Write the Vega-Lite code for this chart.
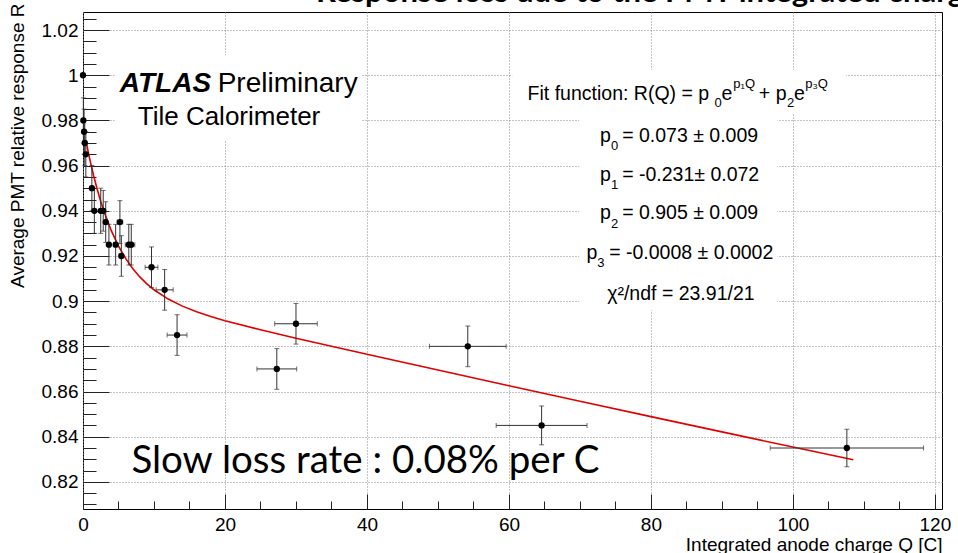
{
  "$schema": "https://vega.github.io/schema/vega-lite/v6.json",
  "width": 859,
  "height": 497,
  "autosize": {"type": "none"},
  "padding": {"left": 83, "top": 12, "right": 16, "bottom": 44},
  "background": "white",
  "title": {
    "text": "Response loss due to the PMT integrated charge",
    "anchor": "start",
    "frame": "group",
    "dx": 233,
    "offset": -6,
    "font": "Lato",
    "fontSize": 31,
    "fontWeight": "bold",
    "color": "black"
  },
  "config": {
    "view": {"stroke": "black", "strokeWidth": 1},
    "axis": {
      "labelFont": "Liberation Sans",
      "titleFont": "Liberation Sans",
      "labelFontSize": 19,
      "titleFontSize": 19,
      "titleFontWeight": "normal",
      "labelColor": "black",
      "titleColor": "black",
      "tickColor": "#222",
      "tickWidth": 1,
      "gridColor": "#888",
      "gridDash": [1, 2],
      "gridWidth": 1,
      "labelFlush": false,
      "labelOverlap": false,
      "domain": false
    }
  },
  "datasets": {
    "points": [
      {"Q": 0.0, "R": 1.0, "xe": 0.0, "ye": 0.0},
      {"Q": 0.05, "R": 0.98, "xe": 0.05, "ye": 0.01},
      {"Q": 0.15, "R": 0.975, "xe": 0.05, "ye": 0.01},
      {"Q": 0.25, "R": 0.97, "xe": 0.05, "ye": 0.01},
      {"Q": 0.4, "R": 0.965, "xe": 0.1, "ye": 0.01},
      {"Q": 1.25, "R": 0.95, "xe": 0.1, "ye": 0.01},
      {"Q": 1.6, "R": 0.94, "xe": 0.15, "ye": 0.01},
      {"Q": 2.5, "R": 0.94, "xe": 0.2, "ye": 0.01},
      {"Q": 2.85, "R": 0.94, "xe": 0.2, "ye": 0.009},
      {"Q": 3.2, "R": 0.935, "xe": 0.2, "ye": 0.009},
      {"Q": 3.65, "R": 0.925, "xe": 0.2, "ye": 0.009},
      {"Q": 4.6, "R": 0.925, "xe": 0.3, "ye": 0.009},
      {"Q": 5.2, "R": 0.935, "xe": 0.4, "ye": 0.0095},
      {"Q": 5.4, "R": 0.92, "xe": 0.3, "ye": 0.009},
      {"Q": 6.45, "R": 0.925, "xe": 0.5, "ye": 0.009},
      {"Q": 6.8, "R": 0.925, "xe": 0.5, "ye": 0.009},
      {"Q": 9.65, "R": 0.915, "xe": 0.9, "ye": 0.009},
      {"Q": 11.5, "R": 0.905, "xe": 1.2, "ye": 0.009},
      {"Q": 13.25, "R": 0.885, "xe": 1.4, "ye": 0.009},
      {"Q": 27.3, "R": 0.87, "xe": 2.8, "ye": 0.009},
      {"Q": 30.0, "R": 0.89, "xe": 3.0, "ye": 0.009},
      {"Q": 54.2, "R": 0.88, "xe": 5.4, "ye": 0.009},
      {"Q": 64.6, "R": 0.845, "xe": 6.4, "ye": 0.0086},
      {"Q": 107.6, "R": 0.835, "xe": 10.8, "ye": 0.0083}
    ],
    "fit": [
      {"Q": 0.4, "R": 0.97131},
      {"Q": 0.7, "R": 0.96659},
      {"Q": 1, "R": 0.96222},
      {"Q": 1.5, "R": 0.95553},
      {"Q": 2, "R": 0.94954},
      {"Q": 2.5, "R": 0.94416},
      {"Q": 3, "R": 0.93934},
      {"Q": 4, "R": 0.93109},
      {"Q": 5, "R": 0.92439},
      {"Q": 6, "R": 0.91893},
      {"Q": 7, "R": 0.91444},
      {"Q": 8, "R": 0.91073},
      {"Q": 9, "R": 0.90764},
      {"Q": 10, "R": 0.90504},
      {"Q": 12, "R": 0.90092},
      {"Q": 14, "R": 0.8978},
      {"Q": 16, "R": 0.8953},
      {"Q": 18, "R": 0.89321},
      {"Q": 20, "R": 0.89136},
      {"Q": 25, "R": 0.88731},
      {"Q": 30, "R": 0.88361},
      {"Q": 40, "R": 0.87651},
      {"Q": 50, "R": 0.86951},
      {"Q": 60, "R": 0.86259},
      {"Q": 70, "R": 0.85571},
      {"Q": 80, "R": 0.84889},
      {"Q": 90, "R": 0.84213},
      {"Q": 100, "R": 0.83542},
      {"Q": 108.5, "R": 0.82976}
    ],
    "boxes": [
      {"Q": 4.47, "Q2": 39.2, "R": 1.0089, "R2": 0.97127},
      {"Q": 60.48, "Q2": 107.5, "R": 1.00228, "R2": 0.98323},
      {"Q": 69.9, "Q2": 97.8, "R": 0.98323, "R2": 0.89597}
    ],
    "ann": [
      {"role": "atlasB", "Q": 5.19, "R": 0.99267, "text": "ATLAS"},
      {"role": "atlasP", "Q": 18.97, "R": 0.99267, "text": "Preliminary"},
      {"role": "tile", "Q": 7.71, "R": 0.97792, "text": "Tile Calorimeter"},
      {"role": "fit", "Q": 62.63, "R": 0.98899, "text": "Fit function: R(Q) = p"},
      {"role": "sub", "Q": 88.95, "R": 0.98589, "text": "0"},
      {"role": "fit", "Q": 89.95, "R": 0.98899, "text": "e"},
      {"role": "sub", "Q": 91.6, "R": 0.99431, "text": "p₁Q"},
      {"role": "fit", "Q": 95.2, "R": 0.98899, "text": "+ p"},
      {"role": "sub", "Q": 99.15, "R": 0.98589, "text": "2"},
      {"role": "fit", "Q": 100.15, "R": 0.98899, "text": "e"},
      {"role": "sub", "Q": 101.75, "R": 0.99431, "text": "p₃Q"},
      {"role": "fit", "Q": 72.82, "R": 0.97052, "text": "p"},
      {"role": "sub", "Q": 74.36, "R": 0.96684, "text": "0"},
      {"role": "fit", "Q": 75.95, "R": 0.97052, "text": "= 0.073 ± 0.009"},
      {"role": "fit", "Q": 72.82, "R": 0.95325, "text": "p"},
      {"role": "sub", "Q": 74.36, "R": 0.94957, "text": "1"},
      {"role": "fit", "Q": 75.95, "R": 0.95325, "text": "= -0.231± 0.072"},
      {"role": "fit", "Q": 72.82, "R": 0.93615, "text": "p"},
      {"role": "sub", "Q": 74.36, "R": 0.93247, "text": "2"},
      {"role": "fit", "Q": 75.95, "R": 0.93615, "text": "= 0.905 ± 0.009"},
      {"role": "fit", "Q": 70.93, "R": 0.91887, "text": "p"},
      {"role": "sub", "Q": 72.43, "R": 0.91519, "text": "3"},
      {"role": "fit", "Q": 74.12, "R": 0.91887, "text": "= -0.0008 ± 0.0002"},
      {"role": "fit", "Q": 73.84, "R": 0.90071, "text": "χ²/ndf = 23.91/21"},
      {"role": "slow", "Q": 6.82, "R": 0.8239, "text": "Slow loss rate : 0.08% per C"}
    ]
  },
  "layer": [
    {
      "layer": [
        {
          "data": {"name": "boxes"},
          "mark": {"type": "rect", "fill": "white", "strokeWidth": 0},
          "encoding": {
            "x": {
              "field": "Q",
              "type": "quantitative",
              "title": "Integrated anode charge Q [C]",
              "scale": {"domain": [0, 121], "nice": false, "zero": false},
              "axis": {
                "orient": "bottom",
                "values": [0, 20, 40, 60, 80, 100, 120],
                "format": "d",
                "tickSize": -15,
                "labelPadding": 21,
                "grid": true,
                "titleAnchor": "end",
                "titlePadding": 1
              }
            },
            "x2": {"field": "Q2"},
            "y": {
              "field": "R",
              "type": "quantitative",
              "title": "Average PMT relative response R",
              "scale": {"domain": [0.808, 1.028], "nice": false, "zero": false},
              "axis": {
                "orient": "left",
                "values": [0.82, 0.84, 0.86, 0.88, 0.9, 0.92, 0.94, 0.96, 0.98, 1, 1.02],
                "format": "~g",
                "tickSize": -26,
                "labelPadding": 31,
                "grid": true,
                "titleAnchor": "end",
                "titleY": -9,
                "titlePadding": 14
              }
            },
            "y2": {"field": "R2"}
          }
        },
        {
          "data": {"name": "fit"},
          "mark": {"type": "line", "color": "#e00000", "strokeWidth": 1.6},
          "encoding": {
            "x": {"field": "Q", "type": "quantitative", "title": "Integrated anode charge Q [C]"},
            "y": {"field": "R", "type": "quantitative", "title": "Average PMT relative response R"}
          }
        },
        {
          "data": {"name": "points"},
          "mark": {"type": "errorbar", "color": "#333", "ticks": {"size": 5}},
          "encoding": {
            "x": {"field": "Q", "type": "quantitative", "title": "Integrated anode charge Q [C]"},
            "xError": {"field": "xe"},
            "y": {"field": "R", "type": "quantitative", "title": "Average PMT relative response R"}
          }
        },
        {
          "data": {"name": "points"},
          "mark": {"type": "errorbar", "color": "#333", "ticks": {"size": 5}},
          "encoding": {
            "x": {"field": "Q", "type": "quantitative", "title": "Integrated anode charge Q [C]"},
            "y": {"field": "R", "type": "quantitative", "title": "Average PMT relative response R"},
            "yError": {"field": "ye"}
          }
        },
        {
          "data": {"name": "points"},
          "mark": {"type": "circle", "size": 40, "color": "black", "opacity": 1},
          "encoding": {
            "x": {"field": "Q", "type": "quantitative", "title": "Integrated anode charge Q [C]"},
            "y": {"field": "R", "type": "quantitative", "title": "Average PMT relative response R"}
          }
        },
        {
          "data": {"name": "ann"},
          "transform": [{"filter": "datum.role === 'atlasB'"}],
          "mark": {"type": "text", "font": "Liberation Sans", "fontSize": 28, "fontWeight": "bold", "fontStyle": "italic", "align": "left", "baseline": "alphabetic", "color": "black"},
          "encoding": {
            "x": {"field": "Q", "type": "quantitative", "title": "Integrated anode charge Q [C]"},
            "y": {"field": "R", "type": "quantitative", "title": "Average PMT relative response R"},
            "text": {"field": "text"}
          }
        },
        {
          "data": {"name": "ann"},
          "transform": [{"filter": "datum.role === 'atlasP'"}],
          "mark": {"type": "text", "font": "Liberation Sans", "fontSize": 28, "align": "left", "baseline": "alphabetic", "color": "black"},
          "encoding": {
            "x": {"field": "Q", "type": "quantitative", "title": "Integrated anode charge Q [C]"},
            "y": {"field": "R", "type": "quantitative", "title": "Average PMT relative response R"},
            "text": {"field": "text"}
          }
        },
        {
          "data": {"name": "ann"},
          "transform": [{"filter": "datum.role === 'tile'"}],
          "mark": {"type": "text", "font": "Liberation Sans", "fontSize": 26, "align": "left", "baseline": "alphabetic", "color": "black"},
          "encoding": {
            "x": {"field": "Q", "type": "quantitative", "title": "Integrated anode charge Q [C]"},
            "y": {"field": "R", "type": "quantitative", "title": "Average PMT relative response R"},
            "text": {"field": "text"}
          }
        },
        {
          "data": {"name": "ann"},
          "transform": [{"filter": "datum.role === 'fit'"}],
          "mark": {"type": "text", "font": "Liberation Sans", "fontSize": 19.5, "align": "left", "baseline": "alphabetic", "color": "black"},
          "encoding": {
            "x": {"field": "Q", "type": "quantitative", "title": "Integrated anode charge Q [C]"},
            "y": {"field": "R", "type": "quantitative", "title": "Average PMT relative response R"},
            "text": {"field": "text"}
          }
        },
        {
          "data": {"name": "ann"},
          "transform": [{"filter": "datum.role === 'sub'"}],
          "mark": {"type": "text", "font": "Liberation Sans", "fontSize": 13, "align": "left", "baseline": "alphabetic", "color": "black"},
          "encoding": {
            "x": {"field": "Q", "type": "quantitative", "title": "Integrated anode charge Q [C]"},
            "y": {"field": "R", "type": "quantitative", "title": "Average PMT relative response R"},
            "text": {"field": "text"}
          }
        },
        {
          "data": {"name": "ann"},
          "transform": [{"filter": "datum.role === 'slow'"}],
          "mark": {"type": "text", "font": "Lato", "fontSize": 38.5, "align": "left", "baseline": "alphabetic", "color": "black"},
          "encoding": {
            "x": {"field": "Q", "type": "quantitative", "title": "Integrated anode charge Q [C]"},
            "y": {"field": "R", "type": "quantitative", "title": "Average PMT relative response R"},
            "text": {"field": "text"}
          }
        }
      ]
    },
    {
      "data": {"name": "points"},
      "mark": {"type": "point", "opacity": 0},
      "encoding": {
        "x": {
          "field": "Q",
          "type": "quantitative",
          "axis": {
            "orient": "bottom",
            "values": [5, 10, 15, 25, 30, 35, 45, 50, 55, 65, 70, 75, 85, 90, 95, 105, 110, 115],
            "tickSize": -8,
            "labels": false,
            "grid": false,
            "title": null
          }
        },
        "y": {
          "field": "R",
          "type": "quantitative",
          "axis": {
            "orient": "left",
            "values": [0.81, 0.815, 0.825, 0.83, 0.835, 0.845, 0.85, 0.855, 0.865, 0.87, 0.875, 0.885, 0.89, 0.895, 0.905, 0.91, 0.915, 0.925, 0.93, 0.935, 0.945, 0.95, 0.955, 0.965, 0.97, 0.975, 0.985, 0.99, 0.995, 1.005, 1.01, 1.015, 1.025],
            "tickSize": -13,
            "labels": false,
            "grid": false,
            "title": null
          }
        }
      }
    }
  ],
  "resolve": {"axis": {"x": "independent", "y": "independent"}}
}
